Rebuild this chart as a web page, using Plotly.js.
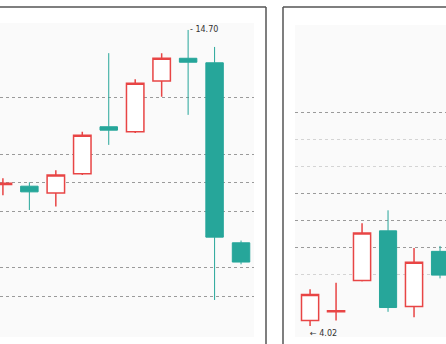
<!DOCTYPE html>
<html>
<head>
<meta charset="utf-8">
<script src="https://cdn.plot.ly/plotly-3.0.1.min.js"></script>
<style>html,body{margin:0;padding:0;background:#fff;}#chart{width:446px;height:344px;}</style>
</head>
<body>
<div id="chart"></div>
<script>
// Left panel
const leftX = [0, 1, 2, 3, 4, 5, 6, 7, 8, 9];
const leftOpen  = [11.97, 11.94, 11.82, 12.16, 12.99, 12.90, 13.80, 14.20, 14.12, 10.94];
const leftHigh  = [12.08, 12.01, 12.22, 12.90, 14.29, 13.83, 14.29, 14.70, 14.40, 10.98];
const leftLow   = [11.78, 11.52, 11.58, 12.14, 12.67, 12.88, 13.52, 13.20, 9.93, 10.56];
const leftClose = [11.99, 11.84, 12.14, 12.84, 12.93, 13.76, 14.20, 14.13, 11.04, 10.60];
const leftGrid = [10, 10.5, 11.5, 12, 12.5, 13.5];
const leftMaxLabel = "- 14.70";

// Right panel
const rightX = [0, 1, 2, 3, 4, 5];
const rightOpen  = [4.07, 4.15, 4.44, 4.90, 4.20, 4.71];
const rightHigh  = [4.36, 4.42, 4.97, 5.09, 4.74, 4.76];
const rightLow   = [4.02, 4.07, 4.43, 4.15, 4.10, 4.46];
const rightClose = [4.31, 4.16, 4.88, 4.19, 4.61, 4.49];
const rightGrid = [4.75, 5, 5.25, 6];
const rightGridFaint = [4.5, 5.5, 5.75];
const rightMinLabel = "← 4.02";

const W = 446, H = 344;
const px = v => v / W;
const py = v => 1 - v / H;

const RED = '#e84545', TEAL = '#26a69a';

function candle(x, o, h, l, c, xa, ya) {
  return {
    type: 'candlestick', x: x, open: o, high: h, low: l, close: c,
    xaxis: xa, yaxis: ya, showlegend: false, hoverinfo: 'skip',
    increasing: {line: {color: RED, width: 1.5}, fillcolor: '#ffffff'},
    decreasing: {line: {color: TEAL, width: 1}, fillcolor: TEAL},
    whiskerwidth: 0
  };
}

const data = [
  candle(leftX, leftOpen, leftHigh, leftLow, leftClose, 'x', 'y'),
  candle(rightX, rightOpen, rightHigh, rightLow, rightClose, 'x2', 'y2')
];

const gridStyle = {showgrid: true, gridcolor: '#9a9a9a', griddash: 'dot', gridwidth: 1,
  zeroline: false, showline: false, showticklabels: false, ticks: ''};

const layout = {
  width: W, height: H,
  margin: {l: 0, r: 0, t: 0, b: 0},
  paper_bgcolor: '#ffffff', plot_bgcolor: '#fafafa',
  boxgap: 0.34, boxgroupgap: 0,
  showlegend: false,
  xaxis: {domain: [0, px(254)], range: [-0.11, 9.49], showgrid: false, zeroline: false,
    showticklabels: false, ticks: '', rangeslider: {visible: false}, fixedrange: true},
  yaxis: Object.assign({domain: [py(337), py(23)], range: [9.276, 14.823], tickvals: leftGrid, anchor: 'x'}, gridStyle),
  xaxis2: {domain: [px(295), 1], range: [-0.58, 5.23], showgrid: false, zeroline: false,
    showticklabels: false, ticks: '', rangeslider: {visible: false}, anchor: 'y2'},
  yaxis2: Object.assign({domain: [py(337), py(25)], range: [3.917, 6.806], tickvals: rightGrid, anchor: 'x2',
    minor: {tickvals: rightGridFaint, showgrid: true, gridcolor: '#d4d4d4', griddash: 'dot', gridwidth: 1, ticks: ''}}, gridStyle),
  annotations: [
    {xref: 'x', yref: 'y', x: 7, y: 14.70, text: leftMaxLabel, showarrow: false,
      xanchor: 'left', yanchor: 'middle', xshift: 0, font: {family: 'DejaVu Sans', size: 8, color: '#333'}},
    {xref: 'x2', yref: 'y2', x: 0, y: 4.02, text: rightMinLabel, showarrow: false,
      xanchor: 'left', yanchor: 'top', xshift: -2, yshift: -1, font: {family: 'DejaVu Sans', size: 8, color: '#333'}}
  ],
  shapes: [
    {type: 'line', xref: 'paper', yref: 'paper', x0: -0.01, x1: px(266), y0: py(7), y1: py(7), line: {color: '#555', width: 1.5}},
    {type: 'line', xref: 'paper', yref: 'paper', x0: px(266), x1: px(266), y0: py(7), y1: -0.02, line: {color: '#555', width: 1.5}},
    {type: 'line', xref: 'paper', yref: 'paper', x0: px(283), x1: 1.01, y0: py(7), y1: py(7), line: {color: '#555', width: 1.5}},
    {type: 'line', xref: 'paper', yref: 'paper', x0: px(283), x1: px(283), y0: py(7), y1: -0.02, line: {color: '#555', width: 1.5}}
  ]
};

Plotly.newPlot('chart', data, layout, {staticPlot: true, displayModeBar: false});
</script>
</body>
</html>
